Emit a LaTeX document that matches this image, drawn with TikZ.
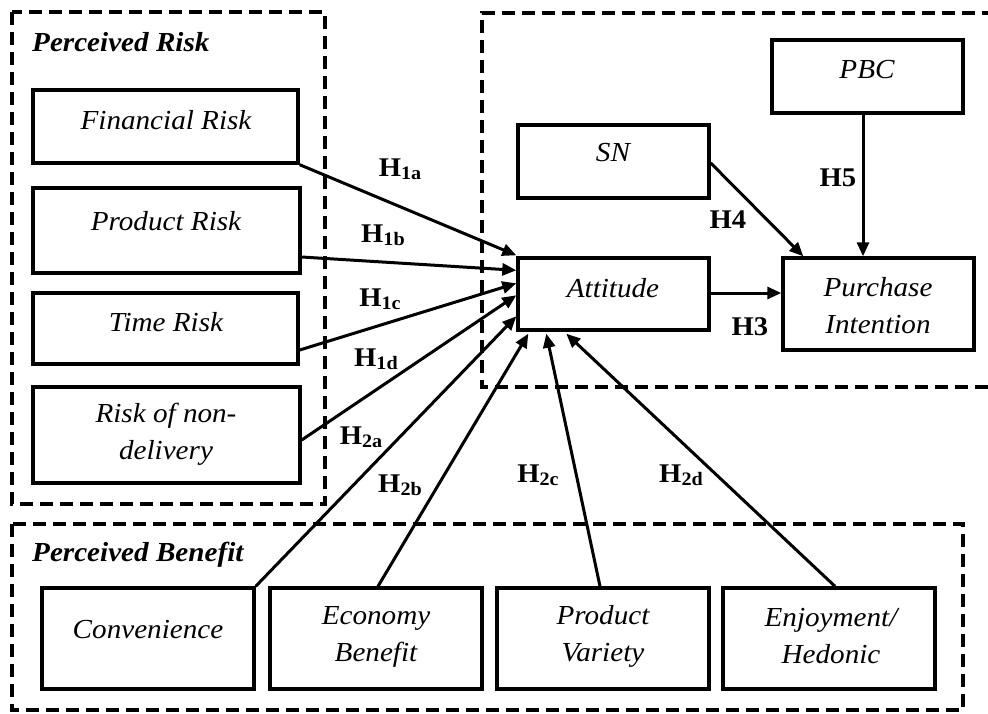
\documentclass[tikz,border=0pt]{standalone}
\usepackage{fontspec}
\setmainfont{Liberation Serif}[FakeStretch=1.06]
\usetikzlibrary{arrows.meta,calc}
% hypothesis label: bold H with a smaller, slightly lowered index
\newcommand{\hyplab}[1]{H\raisebox{-2.5pt}{\fontsize{19}{19}\selectfont #1}}
\begin{document}
\begin{tikzpicture}[x=1pt,y=-1pt,
  box/.style 2 args={draw, line width=3.4pt, minimum width=#1, minimum height=#2, inner sep=0pt},
  txt/.style={font=\fontsize{27.5}{37}\selectfont\itshape, align=center, inner sep=0pt},
  title/.style={font=\fontsize{27.5}{33}\selectfont\bfseries\itshape, anchor=west, inner sep=0pt},
  hyp/.style={font=\fontsize{27}{30}\selectfont\bfseries, inner sep=0pt},
  group/.style={line width=3.2pt, dash pattern=on 13pt off 7pt},
  path/.style={line width=3pt, -{Triangle[length=14pt,width=12pt]}}]

\useasboundingbox[fill=white] (0,0) rectangle (988,713);

% dashed groupings
\draw[group] (12,12) rectangle (325,504);
\draw[group] (995,13) -- (482,13) -- (482,387) -- (995,387);
\draw[group] (12,524) rectangle (963,710);

\node[title] (riskT) at (32,42) {Perceived Risk};
\node[title] (benT) at (32,555) {Perceived Benefit};

% perceived risk constructs
\node[box={265pt}{73pt}] (fin) at (165.5,126.5) {};
\node[txt] (finT) at (166,120) {Financial Risk};
\node[box={267pt}{85pt}] (prod) at (166.5,230.5) {};
\node[txt] (prodT) at (166,221) {Product Risk};
\node[box={265pt}{71pt}] (time) at (165.5,328.5) {};
\node[txt] (timeT) at (166,322) {Time Risk};
\node[box={267pt}{96pt}] (nondel) at (166.5,435) {};
\node[txt] (nondelT) at (166,434.5) {Risk of non-\\delivery};

% theory of planned behaviour constructs
\node[box={191pt}{73pt}] (pbc) at (867.5,76.5) {};
\node[txt] (pbcT) at (867,70) {PBC};
\node[box={191pt}{73pt}] (sn) at (613.5,161.5) {};
\node[txt] (snT) at (613,153) {SN};
\node[box={191pt}{72pt}] (att) at (613.5,294) {};
\node[txt] (attT) at (613,288) {Attitude};
\node[box={191pt}{92pt}] (pi) at (878.5,304) {};
\node[txt] (piT) at (878,306) {Purchase\\Intention};

% perceived benefit constructs
\node[box={212pt}{101pt}] (conv) at (148,638.5) {};
\node[txt] (convT) at (148,630) {Convenience};
\node[box={212pt}{101pt}] (econ) at (376,638.5) {};
\node[txt] (econT) at (376,636.5) {Economy\\Benefit};
\node[box={212pt}{101pt}] (var) at (603,638.5) {};
\node[txt] (varT) at (603,636.5) {Product\\Variety};
\node[box={212pt}{101pt}] (enj) at (829,638.5) {};
\node[txt] (enjT) at (831,636.5) {Enjoyment/\\Hedonic};

% paths into attitude
\draw[path] (fin.south east) -- ($(att.north west)+(0,-1)$);
\draw[path] ($(prod.east)+(0,26.5)$) -- ($(att.north west)+(0,14)$);
\draw[path] ($(time.east)+(0,21.5)$) -- ($(att.north west)+(0,27)$);
\draw[path] ($(nondel.east)+(0,5)$) -- ($(att.north west)+(0,39)$);
\draw[path] (conv.north east) -- ($(att.north west)+(0,60)$);
\draw[path] ($(econ.north)+(2,0)$) -- ($(att.south west)+(12,2)$);
\draw[path] ($(var.north)+(-3,0)$) -- ($(att.south west)+(30,2)$);
\draw[path] ($(enj.north)+(6,0)$) -- ($(att.south west)+(50,2)$);

% paths into purchase intention
\draw[path] ($(att.east)+(0,-1)$) -- ($(pi.west)+(0,-11)$);
\draw[path] ($(sn.east)+(0,1.5)$) -- ($(pi.north west)+(22,0)$);
\draw[path] ($(pbc.south)+(-4.5,0)$) -- ($(pi.north)+(-15.5,0)$);

% hypothesis labels
\node[hyp] (h1a) at (400,169) {\hyplab{1a}};
\node[hyp] (h1b) at (383,235) {\hyplab{1b}};
\node[hyp] (h1c) at (380,299) {\hyplab{1c}};
\node[hyp] (h1d) at (376,359) {\hyplab{1d}};
\node[hyp] (h2a) at (361,437) {\hyplab{2a}};
\node[hyp] (h2b) at (400,485) {\hyplab{2b}};
\node[hyp] (h2c) at (538,475) {\hyplab{2c}};
\node[hyp] (h2d) at (681,475) {\hyplab{2d}};
\node[hyp] (h3) at (750,327) {H3};
\node[hyp] (h4) at (728,220) {H4};
\node[hyp] (h5) at (838,178) {H5};
\end{tikzpicture}
\end{document}
